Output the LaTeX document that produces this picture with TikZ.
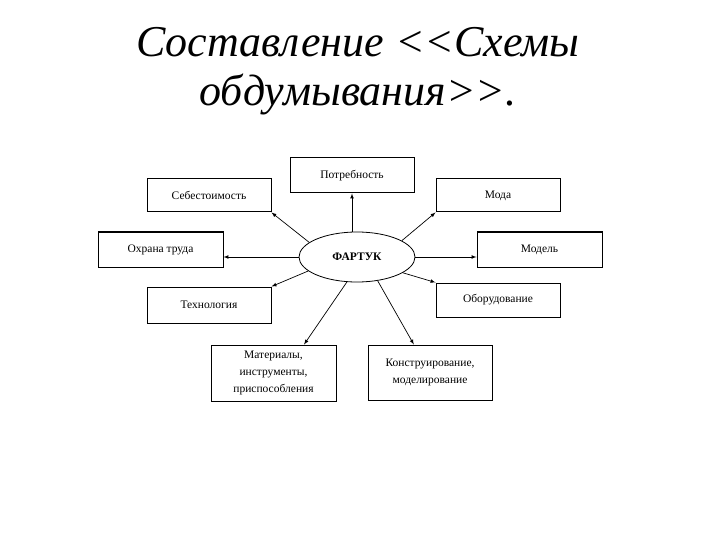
\documentclass[tikz,border=0pt]{standalone}
\usepackage{fontspec}
\setmainfont{Liberation Serif}
\usepackage{tikz}
\usetikzlibrary{shapes.geometric}

\tikzset{
  part/.style={draw, line width=1pt, inner sep=1pt, minimum width=124pt,
    align=center, font=\fontsize{11.5}{17}\selectfont},
  link/.style={->, >=latex, line width=0.7pt}
}

\begin{document}
\begin{tikzpicture}[x=1pt, y=-1pt]
  \useasboundingbox (0,0) rectangle (720,540);

  % title
  \node[anchor=base, font=\fontsize{44}{50}\selectfont\itshape] (title1) at (358,57) {Составление <{}<Схемы};
  \node[anchor=base, font=\fontsize{44}{50}\selectfont\itshape] (title2) at (358,106) {обдумывания>{}>.};

  % centre
  \node[ellipse, draw, line width=0.8pt, minimum width=116pt, minimum height=50pt,
    font=\fontsize{11.5}{13}\selectfont\bfseries] (apron) at (357,257) {ФАРТУК};

  % boxes round it
  \node[part, minimum height=35pt] (need) at (352,175.5) {Потребность};
  \node[part, minimum height=33pt] (cost) at (209,195.5) {Себестоимость};
  \node[part, minimum height=33pt] (fashion) at (498,195.5) {Мода};
  \node[part, minimum width=125pt, minimum height=35pt] (labour) at (160.5,249.5) {Охрана труда};
  \node[part, minimum width=125pt, minimum height=35pt] (model) at (539.5,249.5) {Модель};
  \node[part, minimum height=36pt] (tech) at (209,305) {Технология};
  \node[part, minimum height=34pt] (equip) at (498,300) {Оборудование};
  \node[part, minimum width=125pt, minimum height=56pt] (mat) at (273.5,373) {Материалы,\\инструменты,\\приспособления};
  \node[part, minimum height=55pt] (design) at (430,372.5) {Конструирование,\\моделирование};

  % arrows
  \draw[link] (need.south |- apron.north) -- (need.south);
  \draw[link] (apron.163) -- (cost.south east);
  \draw[link] (apron.20) -- (fashion.south west);
  \draw[link] (apron.west) -- (apron.west -| labour.east);
  \draw[link] (apron.east) -- (apron.east -| model.west);
  \draw[link] (apron.196) -- (tech.north east);
  \draw[link] (apron.341) -- (equip.north west);
  \draw[link] (apron.248) -- (mat.43);
  \draw[link] (apron.311) -- (design.120);
\end{tikzpicture}
\end{document}
